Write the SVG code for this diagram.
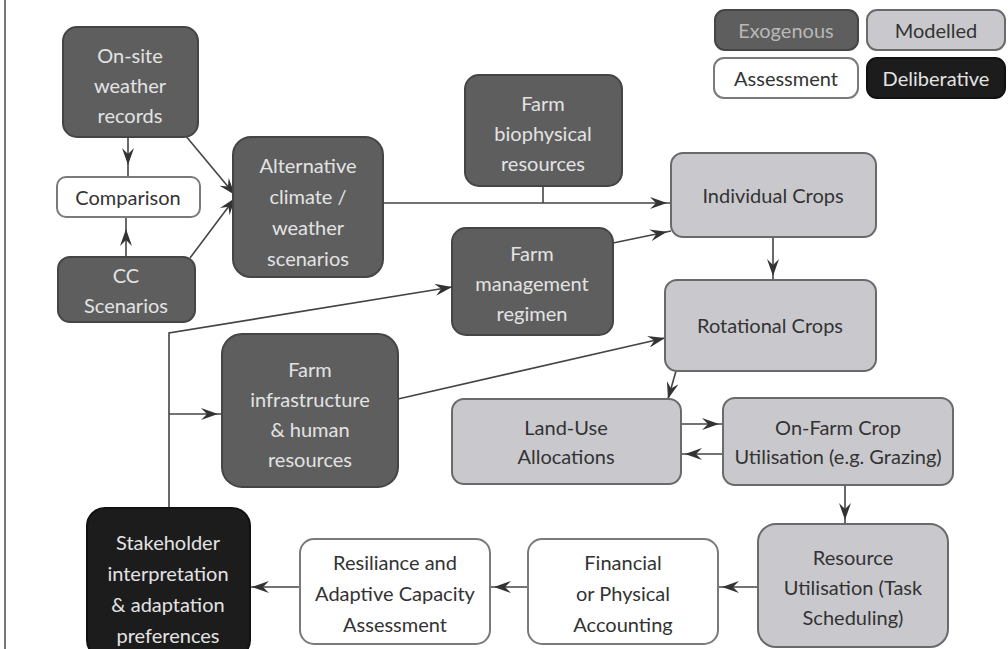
<svg xmlns="http://www.w3.org/2000/svg" width="1008" height="649" viewBox="0 0 1008 649">
<style>
.exo{fill:#5e5e5e;stroke:#454545;stroke-width:2}
.mod{fill:#c9c9cd;stroke:#6a6a6a;stroke-width:2}
.ass{fill:#ffffff;stroke:#7a7a7a;stroke-width:2}
.del{fill:#1c1c1c;stroke:#111;stroke-width:2}
text{font-family:Lato,"Liberation Sans",sans-serif;font-size:20px;text-anchor:middle;dominant-baseline:central}
.tl{fill:#e3e3e3}
.td{fill:#333}
.conn line,.conn polyline{stroke:#444;stroke-width:1.6;fill:none}
</style>
<defs>
<marker id="arr" markerUnits="userSpaceOnUse" markerWidth="18" markerHeight="12" viewBox="0 0 18 12" refX="17" refY="6" orient="auto">
<path d="M0,0 L17,6 L0,12 L6,6 z" fill="#333"/>
</marker>
<marker id="arrG" markerUnits="userSpaceOnUse" markerWidth="18" markerHeight="12" viewBox="0 0 18 12" refX="29" refY="6" orient="auto">
<path d="M0,0 L17,6 L0,12 L6,6 z" fill="#333"/>
</marker>
<marker id="arrS" markerUnits="userSpaceOnUse" markerWidth="18" markerHeight="12" viewBox="0 0 18 12" refX="21" refY="6" orient="auto">
<path d="M0,0 L17,6 L0,12 L6,6 z" fill="#333"/>
</marker>
</defs>
<rect width="1008" height="649" fill="#fff"/>
<line x1="5" y1="0" x2="5" y2="649" stroke="#777" stroke-width="2"/>

<g id="legend">
<g id="legend-exogenous"><rect class="exo" x="715" y="10" width="143" height="40" rx="10"/><text class="tl" x="786" y="30" style="fill:#b8b8b8">Exogenous</text></g>
<g id="legend-modelled"><rect class="mod" x="867" y="10" width="138" height="40" rx="10"/><text class="td" x="936" y="30">Modelled</text></g>
<g id="legend-assessment"><rect class="ass" x="714" y="58" width="144" height="40" rx="10"/><text class="td" x="786" y="78">Assessment</text></g>
<g id="legend-deliberative"><rect class="del" x="867" y="58" width="138" height="40" rx="10"/><text class="tl" x="936" y="78">Deliberative</text></g>
</g>

<g class="conn" id="connectors">
<line x1="128" y1="137" x2="128" y2="177" marker-end="url(#arrG)"/>
<line x1="126" y1="257" x2="126" y2="217" marker-end="url(#arrG)"/>
<line x1="185" y1="135" x2="235" y2="195" marker-end="url(#arr)"/>
<line x1="190" y1="258" x2="235" y2="198" marker-end="url(#arr)"/>
<line x1="383" y1="203" x2="671" y2="203" marker-end="url(#arrS)"/>
<line x1="543" y1="186" x2="543" y2="203"/>
<line x1="613" y1="243" x2="671" y2="231" marker-end="url(#arrS)"/>
<line x1="773" y1="237" x2="773" y2="280" marker-end="url(#arrS)"/>
<polyline points="169,508 169,333 452,287" marker-end="url(#arr)"/>
<line x1="169" y1="414" x2="222" y2="414" marker-end="url(#arrS)"/>
<line x1="398" y1="399" x2="665" y2="338" marker-end="url(#arr)"/>
<line x1="676" y1="371" x2="668" y2="399" marker-end="url(#arr)"/>
<line x1="681" y1="424" x2="723" y2="424" marker-end="url(#arrS)"/>
<line x1="723" y1="454" x2="681" y2="454" marker-end="url(#arrS)"/>
<line x1="845" y1="485" x2="845" y2="524" marker-end="url(#arrS)"/>
<line x1="758" y1="587" x2="718" y2="587" marker-end="url(#arrS)"/>
<line x1="528" y1="587" x2="490" y2="587" marker-end="url(#arrS)"/>
<line x1="300" y1="587" x2="248" y2="587" marker-end="url(#arrS)"/>
</g>

<g id="onsite-weather">
<rect class="exo" x="63" y="27" width="135" height="110" rx="14"/>
<text class="tl" x="130" y="55">On-site</text><text class="tl" x="130" y="85">weather</text><text class="tl" x="130" y="115">records</text>
</g>
<g id="comparison">
<rect class="ass" x="57" y="177" width="143" height="40" rx="9"/>
<text class="td" x="128" y="197">Comparison</text>
</g>
<g id="cc-scenarios">
<rect class="exo" x="58" y="257" width="137" height="65" rx="12"/>
<text class="tl" x="126" y="275">CC</text><text class="tl" x="126" y="305">Scenarios</text>
</g>
<g id="alt-climate">
<rect class="exo" x="233" y="137" width="150" height="140" rx="18"/>
<text class="tl" x="308" y="165">Alternative</text><text class="tl" x="308" y="196">climate /</text><text class="tl" x="308" y="227">weather</text><text class="tl" x="308" y="258">scenarios</text>
</g>
<g id="farm-biophysical">
<rect class="exo" x="465" y="75" width="157" height="111" rx="14"/>
<text class="tl" x="543" y="103">Farm</text><text class="tl" x="543" y="133">biophysical</text><text class="tl" x="543" y="163">resources</text>
</g>
<g id="farm-management">
<rect class="exo" x="452" y="228" width="161" height="107" rx="14"/>
<text class="tl" x="532" y="253">Farm</text><text class="tl" x="532" y="283">management</text><text class="tl" x="532" y="313">regimen</text>
</g>
<g id="individual-crops">
<rect class="mod" x="671" y="153" width="205" height="84" rx="12"/>
<text class="td" x="773" y="195">Individual Crops</text>
</g>
<g id="rotational-crops">
<rect class="mod" x="665" y="280" width="211" height="91" rx="12"/>
<text class="td" x="770" y="325">Rotational Crops</text>
</g>
<g id="farm-infrastructure">
<rect class="exo" x="222" y="334" width="176" height="153" rx="20"/>
<text class="tl" x="310" y="369">Farm</text><text class="tl" x="310" y="399">infrastructure</text><text class="tl" x="310" y="429">&amp; human</text><text class="tl" x="310" y="459">resources</text>
</g>
<g id="land-use">
<rect class="mod" x="452" y="399" width="229" height="85" rx="12"/>
<text class="td" x="566" y="427">Land-Use</text><text class="td" x="566" y="456">Allocations</text>
</g>
<g id="onfarm-crop">
<rect class="mod" x="723" y="398" width="230" height="87" rx="12"/>
<text class="td" x="838" y="427">On-Farm Crop</text><text class="td" x="838" y="456">Utilisation (e.g. Grazing)</text>
</g>
<g id="resource-utilisation">
<rect class="mod" x="758" y="524" width="190" height="123" rx="18"/>
<text class="td" x="853" y="557">Resource</text><text class="td" x="853" y="587">Utilisation (Task</text><text class="td" x="853" y="617">Scheduling)</text>
</g>
<g id="financial">
<rect class="ass" x="528" y="539" width="190" height="105" rx="14"/>
<text class="td" x="623" y="562">Financial</text><text class="td" x="623" y="593">or Physical</text><text class="td" x="623" y="624">Accounting</text>
</g>
<g id="resiliance">
<rect class="ass" x="300" y="539" width="190" height="105" rx="14"/>
<text class="td" x="395" y="562">Resiliance and</text><text class="td" x="395" y="593">Adaptive Capacity</text><text class="td" x="395" y="624">Assessment</text>
</g>
<g id="stakeholder">
<rect class="del" x="87" y="508" width="163" height="150" rx="18"/>
<text class="tl" x="168" y="542">Stakeholder</text><text class="tl" x="168" y="573">interpretation</text><text class="tl" x="168" y="604">&amp; adaptation</text><text class="tl" x="168" y="635">preferences</text>
</g>
</svg>
